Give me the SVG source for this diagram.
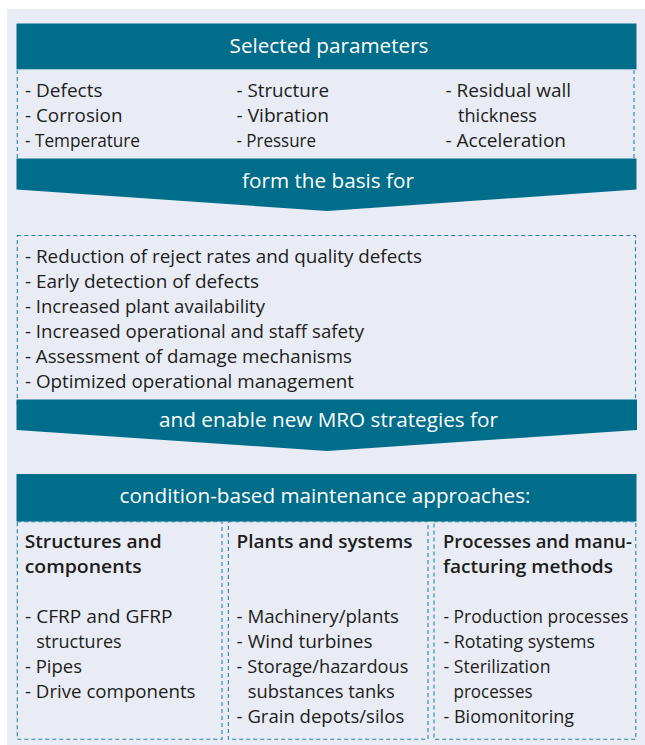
<svg xmlns="http://www.w3.org/2000/svg" width="645" height="745" viewBox="0 0 645 745">
<style>
.band{fill:#006d8b}
.dash{fill:none;stroke:#2b83a1;stroke-width:1.1;stroke-dasharray:4 3}
.bt{font-family:"Open Sans","Liberation Sans",sans-serif;font-size:20.7px;fill:#ffffff;text-anchor:middle}
.tx{font-family:"Open Sans","Liberation Sans",sans-serif;font-size:18.3px;fill:#1d1d1b}
.hd{font-family:"Open Sans","Liberation Sans",sans-serif;font-size:18.6px;font-weight:600;fill:#1d1d1b}
</style>
<rect x="7" y="9" width="638" height="736" fill="#e9ecf4"/>
<g id="connectors">
<path class="dash" d="M17.3,70 V158 M634,70 V158"/>
<rect class="dash" x="17.3" y="235.5" width="618.2" height="170"/>
</g>
<g id="parameters">
<rect class="band" x="16.5" y="23.5" width="620" height="46"/>
<line x1="17" y1="70" x2="636" y2="70" stroke="#d3e3ea" stroke-width="1"/>
<text class="bt" x="329" y="53">Selected parameters</text>
<text class="tx" x="25" y="96.5" textLength="77.5" lengthAdjust="spacingAndGlyphs">- Defects</text>
<text class="tx" x="25" y="121.5" textLength="97.5" lengthAdjust="spacingAndGlyphs">- Corrosion</text>
<text class="tx" x="25" y="146.5" textLength="115" lengthAdjust="spacingAndGlyphs">- Temperature</text>
<text class="tx" x="236.5" y="96.5" textLength="92.5" lengthAdjust="spacingAndGlyphs">- Structure</text>
<text class="tx" x="236.5" y="121.5" textLength="92.5" lengthAdjust="spacingAndGlyphs">- Vibration</text>
<text class="tx" x="236.5" y="146.5" textLength="79.5" lengthAdjust="spacingAndGlyphs">- Pressure</text>
<text class="tx" x="445.5" y="96.5" textLength="125.5" lengthAdjust="spacingAndGlyphs">- Residual wall</text>
<text class="tx" x="458" y="121.5" textLength="79" lengthAdjust="spacingAndGlyphs">thickness</text>
<text class="tx" x="445.5" y="146.5" textLength="120.5" lengthAdjust="spacingAndGlyphs">- Acceleration</text>
</g>
<g id="basis">
<polygon class="band" points="16.5,158.5 636.5,158.5 636.5,189.5 327,211 16.5,189.5"/>
<text class="bt" x="328" y="187.5">form the basis for</text>
</g>
<g id="benefits">
<text class="tx" x="25" y="263.3" textLength="397" lengthAdjust="spacingAndGlyphs">- Reduction of reject rates and quality defects</text>
<text class="tx" x="25" y="288.3" textLength="234" lengthAdjust="spacingAndGlyphs">- Early detection of defects</text>
<text class="tx" x="25" y="313.3" textLength="240" lengthAdjust="spacingAndGlyphs">- Increased plant availability</text>
<text class="tx" x="25" y="338.3" textLength="339" lengthAdjust="spacingAndGlyphs">- Increased operational and staff safety</text>
<text class="tx" x="25" y="363.3" textLength="327" lengthAdjust="spacingAndGlyphs">- Assessment of damage mechanisms</text>
<text class="tx" x="25" y="388.3" textLength="329" lengthAdjust="spacingAndGlyphs">- Optimized operational management</text>
</g>
<g id="mro">
<polygon class="band" points="16.5,399.5 637,399.5 637,430 327,451 16.5,430"/>
<text class="bt" x="328.5" y="427.3">and enable new MRO strategies for</text>
</g>
<g id="approaches">
<rect class="band" x="16.5" y="474" width="620" height="47.5"/>
<text class="bt" x="325" y="502.5">condition-based maintenance approaches:</text>
</g>
<g id="structures">
<rect class="dash" x="17.3" y="521.7" width="204.7" height="217.6"/>
<text class="hd" x="24.7" y="548.3" textLength="137" lengthAdjust="spacingAndGlyphs">Structures and</text>
<text class="hd" x="24.7" y="573.3" textLength="117" lengthAdjust="spacingAndGlyphs">components</text>
<text class="tx" x="25" y="623.3" textLength="147.5" lengthAdjust="spacingAndGlyphs">- CFRP and GFRP</text>
<text class="tx" x="36.2" y="648.3" textLength="85.5" lengthAdjust="spacingAndGlyphs">structures</text>
<text class="tx" x="25" y="673.3" textLength="57" lengthAdjust="spacingAndGlyphs">- Pipes</text>
<text class="tx" x="25" y="698.3" textLength="170.5" lengthAdjust="spacingAndGlyphs">- Drive components</text>
</g>
<g id="plants">
<rect class="dash" x="228.4" y="521.7" width="199.6" height="217.6"/>
<text class="hd" x="236.6" y="548.3" textLength="176" lengthAdjust="spacingAndGlyphs">Plants and systems</text>
<text class="tx" x="236.6" y="623.3" textLength="162.4" lengthAdjust="spacingAndGlyphs">- Machinery/plants</text>
<text class="tx" x="236.6" y="648.3" textLength="136" lengthAdjust="spacingAndGlyphs">- Wind turbines</text>
<text class="tx" x="236.6" y="673.3" textLength="171.8" lengthAdjust="spacingAndGlyphs">- Storage/hazardous</text>
<text class="tx" x="247.7" y="698.3" textLength="147" lengthAdjust="spacingAndGlyphs">substances tanks</text>
<text class="tx" x="236.6" y="723.3" textLength="167.7" lengthAdjust="spacingAndGlyphs">- Grain depots/silos</text>
</g>
<g id="processes">
<rect class="dash" x="434" y="521.7" width="201.8" height="217.6"/>
<text class="hd" x="443" y="548.3" textLength="189" lengthAdjust="spacingAndGlyphs">Processes and manu-</text>
<text class="hd" x="443" y="573.3" textLength="170" lengthAdjust="spacingAndGlyphs">facturing methods</text>
<text class="tx" x="443.5" y="623.3" textLength="185" lengthAdjust="spacingAndGlyphs">- Production processes</text>
<text class="tx" x="443.5" y="648.3" textLength="151.5" lengthAdjust="spacingAndGlyphs">- Rotating systems</text>
<text class="tx" x="443.5" y="673.3" textLength="107" lengthAdjust="spacingAndGlyphs">- Sterilization</text>
<text class="tx" x="453.5" y="698.3" textLength="79" lengthAdjust="spacingAndGlyphs">processes</text>
<text class="tx" x="443.5" y="723.3" textLength="130.5" lengthAdjust="spacingAndGlyphs">- Biomonitoring</text>
</g>
</svg>
